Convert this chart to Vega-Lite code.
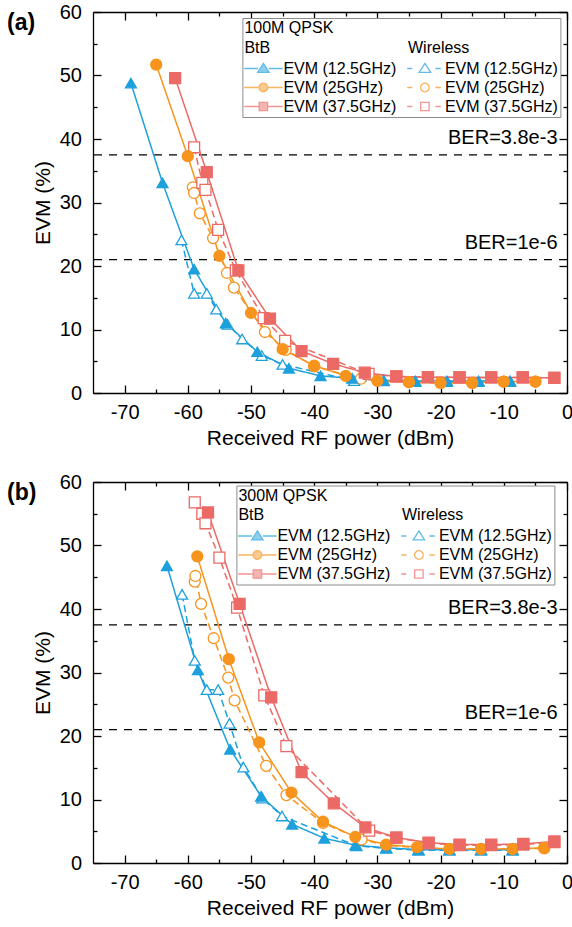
{
  "$schema": "https://vega.github.io/schema/vega-lite/v6.json",
  "padding": {"left": 7, "top": 2, "right": 4, "bottom": 4},
  "bounds": "flush",
  "spacing": 89,
  "datasets": {
    "a": [
      {"x": -61, "y": 24.1, "s": "w12"}, {"x": -59, "y": 15.7, "s": "w12"}, {"x": -57, "y": 15.7, "s": "w12"}, {"x": -55.5, "y": 13.2, "s": "w12"}, {"x": -53.7, "y": 10.8, "s": "w12"}, {"x": -51.4, "y": 8.5, "s": "w12"}, {"x": -48.3, "y": 5.9, "s": "w12"}, {"x": -45, "y": 4.5, "s": "w12"}, {"x": -33.7, "y": 1.95, "s": "w12"}, {"x": -29, "y": 1.9, "s": "w12"}, {"x": -24, "y": 1.8, "s": "w12"}, {"x": -19, "y": 1.8, "s": "w12"}, {"x": -14, "y": 1.8, "s": "w12"}, {"x": -9, "y": 1.8, "s": "w12"},
      {"x": -59.2, "y": 32.4, "s": "w25"}, {"x": -59, "y": 31.5, "s": "w25"}, {"x": -58.1, "y": 28.3, "s": "w25"}, {"x": -56, "y": 24.4, "s": "w25"}, {"x": -53.8, "y": 18.9, "s": "w25"}, {"x": -52.7, "y": 16.6, "s": "w25"}, {"x": -47.8, "y": 9.6, "s": "w25"}, {"x": -44.5, "y": 6.8, "s": "w25"}, {"x": -40, "y": 4.2, "s": "w25"}, {"x": -32.6, "y": 2.25, "s": "w25"}, {"x": -25, "y": 1.7, "s": "w25"}, {"x": -20, "y": 1.6, "s": "w25"}, {"x": -15, "y": 1.6, "s": "w25"}, {"x": -10, "y": 1.8, "s": "w25"}, {"x": -5, "y": 1.8, "s": "w25"},
      {"x": -59, "y": 38.7, "s": "w37"}, {"x": -57.7, "y": 33.1, "s": "w37"}, {"x": -57.2, "y": 32.0, "s": "w37"}, {"x": -55.2, "y": 25.7, "s": "w37"}, {"x": -52.4, "y": 19.3, "s": "w37"}, {"x": -48, "y": 11.8, "s": "w37"}, {"x": -44.6, "y": 8.2, "s": "w37"}, {"x": -31.4, "y": 3.0, "s": "w37"}, {"x": -27, "y": 2.6, "s": "w37"}, {"x": -22, "y": 2.5, "s": "w37"}, {"x": -17, "y": 2.45, "s": "w37"}, {"x": -12, "y": 2.45, "s": "w37"}, {"x": -7, "y": 2.45, "s": "w37"}, {"x": -2, "y": 2.4, "s": "w37"},
      {"x": -69, "y": 48.8, "s": "b12"}, {"x": -64, "y": 33.1, "s": "b12"}, {"x": -59, "y": 19.5, "s": "b12"}, {"x": -54, "y": 11.0, "s": "b12"}, {"x": -49, "y": 6.5, "s": "b12"}, {"x": -44, "y": 3.9, "s": "b12"}, {"x": -39, "y": 2.7, "s": "b12"}, {"x": -34, "y": 2.3, "s": "b12"}, {"x": -29, "y": 2.0, "s": "b12"}, {"x": -24, "y": 1.9, "s": "b12"}, {"x": -19, "y": 1.9, "s": "b12"}, {"x": -14, "y": 1.9, "s": "b12"}, {"x": -9, "y": 1.9, "s": "b12"},
      {"x": -65, "y": 51.7, "s": "b25"}, {"x": -60, "y": 37.3, "s": "b25"}, {"x": -55, "y": 21.6, "s": "b25"}, {"x": -50, "y": 12.6, "s": "b25"}, {"x": -45, "y": 6.9, "s": "b25"}, {"x": -40, "y": 4.3, "s": "b25"}, {"x": -35, "y": 2.7, "s": "b25"}, {"x": -30, "y": 1.9, "s": "b25"}, {"x": -25, "y": 1.7, "s": "b25"}, {"x": -20, "y": 1.6, "s": "b25"}, {"x": -15, "y": 1.6, "s": "b25"}, {"x": -10, "y": 1.8, "s": "b25"}, {"x": -5, "y": 1.8, "s": "b25"},
      {"x": -62, "y": 49.6, "s": "b37"}, {"x": -57, "y": 34.8, "s": "b37"}, {"x": -52, "y": 19.3, "s": "b37"}, {"x": -47, "y": 11.7, "s": "b37"}, {"x": -42, "y": 6.6, "s": "b37"}, {"x": -37, "y": 4.6, "s": "b37"}, {"x": -32, "y": 3.2, "s": "b37"}, {"x": -27, "y": 2.6, "s": "b37"}, {"x": -22, "y": 2.5, "s": "b37"}, {"x": -17, "y": 2.45, "s": "b37"}, {"x": -12, "y": 2.45, "s": "b37"}, {"x": -7, "y": 2.45, "s": "b37"}, {"x": -2, "y": 2.4, "s": "b37"}
    ],
    "b": [
      {"x": -60.9, "y": 42.3, "s": "w12"}, {"x": -58.9, "y": 31.9, "s": "w12"}, {"x": -57, "y": 27.3, "s": "w12"}, {"x": -55.2, "y": 27.3, "s": "w12"}, {"x": -53.4, "y": 22.0, "s": "w12"}, {"x": -51.2, "y": 15.1, "s": "w12"}, {"x": -48.2, "y": 10.2, "s": "w12"}, {"x": -45.1, "y": 7.4, "s": "w12"}, {"x": -33.3, "y": 2.7, "s": "w12"}, {"x": -28.6, "y": 2.3, "s": "w12"}, {"x": -23.5, "y": 2.0, "s": "w12"}, {"x": -18.6, "y": 2.0, "s": "w12"}, {"x": -13.6, "y": 2.0, "s": "w12"}, {"x": -8.6, "y": 2.0, "s": "w12"},
      {"x": -58.9, "y": 44.3, "s": "w25"}, {"x": -58.8, "y": 45.2, "s": "w25"}, {"x": -57.9, "y": 40.8, "s": "w25"}, {"x": -55.9, "y": 35.4, "s": "w25"}, {"x": -53.6, "y": 29.2, "s": "w25"}, {"x": -52.6, "y": 25.6, "s": "w25"}, {"x": -47.6, "y": 15.3, "s": "w25"}, {"x": -44.4, "y": 10.7, "s": "w25"}, {"x": -38.6, "y": 6.3, "s": "w25"}, {"x": -32.5, "y": 3.7, "s": "w25"}, {"x": -28.6, "y": 2.8, "s": "w25"}, {"x": -23.7, "y": 2.4, "s": "w25"}, {"x": -18.6, "y": 2.2, "s": "w25"}, {"x": -13.6, "y": 2.2, "s": "w25"}, {"x": -8.6, "y": 2.2, "s": "w25"}, {"x": -3.6, "y": 2.3, "s": "w25"},
      {"x": -58.9, "y": 56.8, "s": "w37"}, {"x": -57.7, "y": 55.0, "s": "w37"}, {"x": -57.2, "y": 53.5, "s": "w37"}, {"x": -55, "y": 48.1, "s": "w37"}, {"x": -52.2, "y": 40.2, "s": "w37"}, {"x": -47.9, "y": 26.4, "s": "w37"}, {"x": -44.4, "y": 18.4, "s": "w37"}, {"x": -31.3, "y": 5.1, "s": "w37"}, {"x": -27, "y": 4.0, "s": "w37"}, {"x": -21.9, "y": 3.1, "s": "w37"}, {"x": -17, "y": 2.8, "s": "w37"}, {"x": -12, "y": 2.8, "s": "w37"}, {"x": -6.9, "y": 2.9, "s": "w37"}, {"x": -2, "y": 3.3, "s": "w37"},
      {"x": -63.3, "y": 46.8, "s": "b12"}, {"x": -58.4, "y": 30.4, "s": "b12"}, {"x": -53.3, "y": 17.9, "s": "b12"}, {"x": -48.4, "y": 10.5, "s": "b12"}, {"x": -43.5, "y": 6.1, "s": "b12"}, {"x": -38.4, "y": 3.9, "s": "b12"}, {"x": -33.5, "y": 2.8, "s": "b12"}, {"x": -28.6, "y": 2.4, "s": "b12"}, {"x": -23.5, "y": 2.1, "s": "b12"}, {"x": -18.6, "y": 2.1, "s": "b12"}, {"x": -13.6, "y": 2.1, "s": "b12"}, {"x": -8.6, "y": 2.1, "s": "b12"},
      {"x": -58.5, "y": 48.3, "s": "b25"}, {"x": -53.5, "y": 32.1, "s": "b25"}, {"x": -48.7, "y": 19.0, "s": "b25"}, {"x": -43.6, "y": 11.1, "s": "b25"}, {"x": -38.6, "y": 6.5, "s": "b25"}, {"x": -33.5, "y": 4.1, "s": "b25"}, {"x": -28.6, "y": 2.9, "s": "b25"}, {"x": -23.7, "y": 2.5, "s": "b25"}, {"x": -18.6, "y": 2.2, "s": "b25"}, {"x": -13.6, "y": 2.2, "s": "b25"}, {"x": -8.6, "y": 2.2, "s": "b25"}, {"x": -3.6, "y": 2.4, "s": "b25"},
      {"x": -56.8, "y": 55.2, "s": "b37"}, {"x": -51.8, "y": 40.8, "s": "b37"}, {"x": -46.8, "y": 26.1, "s": "b37"}, {"x": -42, "y": 14.3, "s": "b37"}, {"x": -36.9, "y": 9.4, "s": "b37"}, {"x": -31.9, "y": 5.6, "s": "b37"}, {"x": -27, "y": 4.0, "s": "b37"}, {"x": -21.9, "y": 3.2, "s": "b37"}, {"x": -17, "y": 2.9, "s": "b37"}, {"x": -12, "y": 2.9, "s": "b37"}, {"x": -6.9, "y": 3.0, "s": "b37"}, {"x": -2, "y": 3.4, "s": "b37"}
    ],
    "ber": [
      {"y": 37.5, "label": "BER=3.8e-3"},
      {"y": 21, "label": "BER=1e-6"}
    ]
  },
  "vconcat": [
    {
      "width": 474, "height": 381,
      "title": {"text": "(a)", "anchor": "start", "frame": "group", "orient": "top", "offset": -33, "dx": -86, "baseline": "top", "fontSize": 23, "fontWeight": "bold", "font": "Liberation Sans", "color": "black"},
      "resolve": {"scale": {"shape": "independent", "stroke": "independent", "fill": "independent", "strokeDash": "independent"}},
      "layer": [
        {
          "data": {"name": "ber"},
          "mark": {"type": "rule", "strokeDash": [8, 7], "strokeWidth": 1.3, "color": "black"},
          "encoding": {"y": {"field": "y", "type": "quantitative", "scale": {"domain": [0, 60], "nice": false, "zero": false}, "axis": null}}
        },
        {
          "data": {"name": "a"},
          "mark": {"type": "line", "strokeWidth": 1.5},
          "encoding": {
            "x": {"field": "x", "type": "quantitative", "scale": {"domain": [-75, 0], "nice": false, "zero": false},
              "axis": {"orient": "bottom", "values": [-70,-65,-60,-55,-50,-45,-40,-35,-30,-25,-20,-15,-10,-5,0], "labelExpr": "datum.value % 10 === 0 ? '' + datum.value : ''", "tickSize": {"condition": {"test": "datum.value % 10 === 0", "value": -8}, "value": -4}, "labelPadding": 17, "title": "Received RF power (dBm)", "titlePadding": 1}},
            "y": {"field": "y", "type": "quantitative", "scale": {"domain": [0, 60], "nice": false, "zero": false},
              "axis": {"orient": "left", "values": [0,5,10,15,20,25,30,35,40,45,50,55,60], "labelExpr": "datum.value % 10 === 0 ? '' + datum.value : ''", "tickSize": {"condition": {"test": "datum.value % 10 === 0", "value": -8}, "value": -4}, "labelPadding": 19.5, "title": "EVM (%)", "titlePadding": 6}},
            "stroke": {"field": "s", "type": "nominal", "scale": {"domain": ["b12","w12","b25","w25","b37","w37"], "range": ["#1EA0DD","#1EA0DD","#F7941D","#F7941D","#EC6A66","#EC6A66"]}, "legend": null},
            "strokeDash": {"field": "s", "type": "nominal", "scale": {"domain": ["b12","w12","b25","w25","b37","w37"], "range": [[1,0],[7,4],[1,0],[7,4],[1,0],[7,4]]}, "legend": null}
          }
        },
        {
          "data": {"name": "a"},
          "mark": {"type": "point", "filled": true, "size": 120, "strokeWidth": 1.3, "opacity": 1},
          "encoding": {
            "x": {"field": "x", "type": "quantitative", "scale": {"domain": [-75, 0], "nice": false, "zero": false},
              "axis": {"orient": "top", "values": [-70,-65,-60,-55,-50,-45,-40,-35,-30,-25,-20,-15,-10,-5,0], "labels": false, "tickSize": {"condition": {"test": "datum.value % 10 === 0", "value": -8}, "value": -4}, "title": null}},
            "y": {"field": "y", "type": "quantitative", "scale": {"domain": [0, 60], "nice": false, "zero": false},
              "axis": {"orient": "right", "values": [0,5,10,15,20,25,30,35,40,45,50,55,60], "labels": false, "tickSize": {"condition": {"test": "datum.value % 10 === 0", "value": -8}, "value": -4}, "title": null}},
            "shape": {"field": "s", "type": "nominal", "scale": {"domain": ["b12","w12","b25","w25","b37","w37"], "range": ["triangle-up","triangle-up","circle","circle","square","square"]}, "legend": null},
            "stroke": {"field": "s", "type": "nominal", "scale": {"domain": ["b12","w12","b25","w25","b37","w37"], "range": ["#1EA0DD","#1EA0DD","#F7941D","#F7941D","#EC6A66","#EC6A66"]}, "legend": null},
            "fill": {"field": "s", "type": "nominal", "scale": {"domain": ["b12","w12","b25","w25","b37","w37"], "range": ["#1EA0DD","#ffffff","#F7941D","#ffffff","#EC6A66","#ffffff"]}, "legend": null}
          }
        },
        {
          "data": {"name": "ber"},
          "mark": {"type": "text", "align": "right", "baseline": "alphabetic", "dy": -11, "fontSize": 20, "font": "Liberation Sans", "color": "black"},
          "encoding": {
            "x": {"datum": -1.5, "type": "quantitative", "scale": {"domain": [-75, 0], "nice": false, "zero": false}, "axis": null},
            "y": {"field": "y", "type": "quantitative", "scale": {"domain": [0, 60], "nice": false, "zero": false}, "axis": null},
            "text": {"field": "label", "type": "nominal"}
          }
        },
        {
          "data": {"name": "a"},
          "transform": [{"filter": "false"}],
          "mark": {"type": "point"},
          "encoding": {
            "shape": {"field": "s", "type": "nominal", "scale": {"domain": ["b12","b25","b37","w12","w25","w37"], "range": [
              "M-3.2,0H-0.9M0.9,0H3.2M0,-0.85L0.95,0.65L-0.95,0.65Z",
              "M-3.2,0H-0.75M0.75,0H3.2M-0.72,0A0.72,0.72,0,1,1,0.72,0A0.72,0.72,0,1,1,-0.72,0Z",
              "M-3.2,0H-0.7M0.7,0H3.2M-0.7,-0.7H0.7V0.7H-0.7Z",
              "M-2.95,0H-2.1M1.75,0H2.65M0,-0.85L0.95,0.65L-0.95,0.65Z",
              "M-2.95,0H-2.1M1.75,0H2.65M-0.72,0A0.72,0.72,0,1,1,0.72,0A0.72,0.72,0,1,1,-0.72,0Z",
              "M-2.95,0H-2.1M1.75,0H2.65M-0.7,-0.7H0.7V0.7H-0.7Z"]},
              "legend": {"orient": "none", "legendX": 149.4, "legendY": 6, "columns": 2,
                "title": ["100M QPSK", "BtB\u00a0\u00a0\u00a0\u00a0\u00a0\u00a0\u00a0\u00a0\u00a0\u00a0\u00a0\u00a0\u00a0\u00a0\u00a0\u00a0\u00a0\u00a0\u00a0\u00a0\u00a0\u00a0\u00a0\u00a0\u00a0\u00a0\u00a0\u00a0\u00a0\u00a0\u00a0Wireless"],
                "labelExpr": "datum.value[1] == '1' ? 'EVM (12.5GHz)' : datum.value[1] == '2' ? 'EVM (25GHz)' : 'EVM (37.5GHz)'"}},
            "stroke": {"field": "s", "type": "nominal", "scale": {"domain": ["b12","b25","b37","w12","w25","w37"], "range": ["#1EA0DD","#F7941D","#EC6A66","#1EA0DD","#F7941D","#EC6A66"]}},
            "fill": {"field": "s", "type": "nominal", "scale": {"domain": ["b12","b25","b37","w12","w25","w37"], "range": ["#1EA0DD","#F7941D","#EC6A66","#ffffff","#ffffff","#ffffff"]}}
          }
        }
      ]
    },
    {
      "width": 474, "height": 381,
      "title": {"text": "(b)", "anchor": "start", "frame": "group", "orient": "top", "offset": -33, "dx": -86, "baseline": "top", "fontSize": 23, "fontWeight": "bold", "font": "Liberation Sans", "color": "black"},
      "resolve": {"scale": {"shape": "independent", "stroke": "independent", "fill": "independent", "strokeDash": "independent"}},
      "layer": [
        {
          "data": {"name": "ber"},
          "mark": {"type": "rule", "strokeDash": [8, 7], "strokeWidth": 1.3, "color": "black"},
          "encoding": {"y": {"field": "y", "type": "quantitative", "scale": {"domain": [0, 60], "nice": false, "zero": false}, "axis": null}}
        },
        {
          "data": {"name": "b"},
          "mark": {"type": "line", "strokeWidth": 1.5},
          "encoding": {
            "x": {"field": "x", "type": "quantitative", "scale": {"domain": [-75, 0], "nice": false, "zero": false},
              "axis": {"orient": "bottom", "values": [-70,-65,-60,-55,-50,-45,-40,-35,-30,-25,-20,-15,-10,-5,0], "labelExpr": "datum.value % 10 === 0 ? '' + datum.value : ''", "tickSize": {"condition": {"test": "datum.value % 10 === 0", "value": -8}, "value": -4}, "labelPadding": 17, "title": "Received RF power (dBm)", "titlePadding": 1}},
            "y": {"field": "y", "type": "quantitative", "scale": {"domain": [0, 60], "nice": false, "zero": false},
              "axis": {"orient": "left", "values": [0,5,10,15,20,25,30,35,40,45,50,55,60], "labelExpr": "datum.value % 10 === 0 ? '' + datum.value : ''", "tickSize": {"condition": {"test": "datum.value % 10 === 0", "value": -8}, "value": -4}, "labelPadding": 19.5, "title": "EVM (%)", "titlePadding": 6}},
            "stroke": {"field": "s", "type": "nominal", "scale": {"domain": ["b12","w12","b25","w25","b37","w37"], "range": ["#1EA0DD","#1EA0DD","#F7941D","#F7941D","#EC6A66","#EC6A66"]}, "legend": null},
            "strokeDash": {"field": "s", "type": "nominal", "scale": {"domain": ["b12","w12","b25","w25","b37","w37"], "range": [[1,0],[7,4],[1,0],[7,4],[1,0],[7,4]]}, "legend": null}
          }
        },
        {
          "data": {"name": "b"},
          "mark": {"type": "point", "filled": true, "size": 120, "strokeWidth": 1.3, "opacity": 1},
          "encoding": {
            "x": {"field": "x", "type": "quantitative", "scale": {"domain": [-75, 0], "nice": false, "zero": false},
              "axis": {"orient": "top", "values": [-70,-65,-60,-55,-50,-45,-40,-35,-30,-25,-20,-15,-10,-5,0], "labels": false, "tickSize": {"condition": {"test": "datum.value % 10 === 0", "value": -8}, "value": -4}, "title": null}},
            "y": {"field": "y", "type": "quantitative", "scale": {"domain": [0, 60], "nice": false, "zero": false},
              "axis": {"orient": "right", "values": [0,5,10,15,20,25,30,35,40,45,50,55,60], "labels": false, "tickSize": {"condition": {"test": "datum.value % 10 === 0", "value": -8}, "value": -4}, "title": null}},
            "shape": {"field": "s", "type": "nominal", "scale": {"domain": ["b12","w12","b25","w25","b37","w37"], "range": ["triangle-up","triangle-up","circle","circle","square","square"]}, "legend": null},
            "stroke": {"field": "s", "type": "nominal", "scale": {"domain": ["b12","w12","b25","w25","b37","w37"], "range": ["#1EA0DD","#1EA0DD","#F7941D","#F7941D","#EC6A66","#EC6A66"]}, "legend": null},
            "fill": {"field": "s", "type": "nominal", "scale": {"domain": ["b12","w12","b25","w25","b37","w37"], "range": ["#1EA0DD","#ffffff","#F7941D","#ffffff","#EC6A66","#ffffff"]}, "legend": null}
          }
        },
        {
          "data": {"name": "ber"},
          "mark": {"type": "text", "align": "right", "baseline": "alphabetic", "dy": -11, "fontSize": 20, "font": "Liberation Sans", "color": "black"},
          "encoding": {
            "x": {"datum": -1.5, "type": "quantitative", "scale": {"domain": [-75, 0], "nice": false, "zero": false}, "axis": null},
            "y": {"field": "y", "type": "quantitative", "scale": {"domain": [0, 60], "nice": false, "zero": false}, "axis": null},
            "text": {"field": "label", "type": "nominal"}
          }
        },
        {
          "data": {"name": "b"},
          "transform": [{"filter": "false"}],
          "mark": {"type": "point"},
          "encoding": {
            "shape": {"field": "s", "type": "nominal", "scale": {"domain": ["b12","b25","b37","w12","w25","w37"], "range": [
              "M-3.2,0H-0.9M0.9,0H3.2M0,-0.85L0.95,0.65L-0.95,0.65Z",
              "M-3.2,0H-0.75M0.75,0H3.2M-0.72,0A0.72,0.72,0,1,1,0.72,0A0.72,0.72,0,1,1,-0.72,0Z",
              "M-3.2,0H-0.7M0.7,0H3.2M-0.7,-0.7H0.7V0.7H-0.7Z",
              "M-2.95,0H-2.1M1.75,0H2.65M0,-0.85L0.95,0.65L-0.95,0.65Z",
              "M-2.95,0H-2.1M1.75,0H2.65M-0.72,0A0.72,0.72,0,1,1,0.72,0A0.72,0.72,0,1,1,-0.72,0Z",
              "M-2.95,0H-2.1M1.75,0H2.65M-0.7,-0.7H0.7V0.7H-0.7Z"]},
              "legend": {"orient": "none", "legendX": 143.4, "legendY": 3.5, "columns": 2,
                "title": ["300M QPSK", "BtB\u00a0\u00a0\u00a0\u00a0\u00a0\u00a0\u00a0\u00a0\u00a0\u00a0\u00a0\u00a0\u00a0\u00a0\u00a0\u00a0\u00a0\u00a0\u00a0\u00a0\u00a0\u00a0\u00a0\u00a0\u00a0\u00a0\u00a0\u00a0\u00a0\u00a0\u00a0Wireless"],
                "labelExpr": "datum.value[1] == '1' ? 'EVM (12.5GHz)' : datum.value[1] == '2' ? 'EVM (25GHz)' : 'EVM (37.5GHz)'"}},
            "stroke": {"field": "s", "type": "nominal", "scale": {"domain": ["b12","b25","b37","w12","w25","w37"], "range": ["#1EA0DD","#F7941D","#EC6A66","#1EA0DD","#F7941D","#EC6A66"]}},
            "fill": {"field": "s", "type": "nominal", "scale": {"domain": ["b12","b25","b37","w12","w25","w37"], "range": ["#1EA0DD","#F7941D","#EC6A66","#ffffff","#ffffff","#ffffff"]}}
          }
        }
      ]
    }
  ],
  "config": {
    "font": "Liberation Sans",
    "view": {"stroke": null},
    "axis": {"grid": false, "domainColor": "black", "domainWidth": 1.3, "tickColor": "black", "tickWidth": 1.3, "labelColor": "black", "titleColor": "black", "labelFontSize": 20, "titleFontSize": 21, "titleFontWeight": "normal", "labelFlush": false, "labelOverlap": false, "labelFont": "Liberation Sans", "titleFont": "Liberation Sans"},
    "legend": {"titleFont": "Liberation Sans", "titleFontSize": 16, "titleFontWeight": "normal", "titleColor": "black", "titleLineHeight": 19.5, "titlePadding": 5, "titleLimit": 400, "labelFont": "Liberation Sans", "labelFontSize": 16, "labelColor": "black", "labelLimit": 300, "symbolSize": 144, "symbolStrokeWidth": 1.3, "symbolOffset": 11, "labelOffset": 12, "rowPadding": 3, "columnPadding": 7.5, "padding": 2, "strokeColor": "#8c8c8c", "fillColor": "white"}
  }
}
